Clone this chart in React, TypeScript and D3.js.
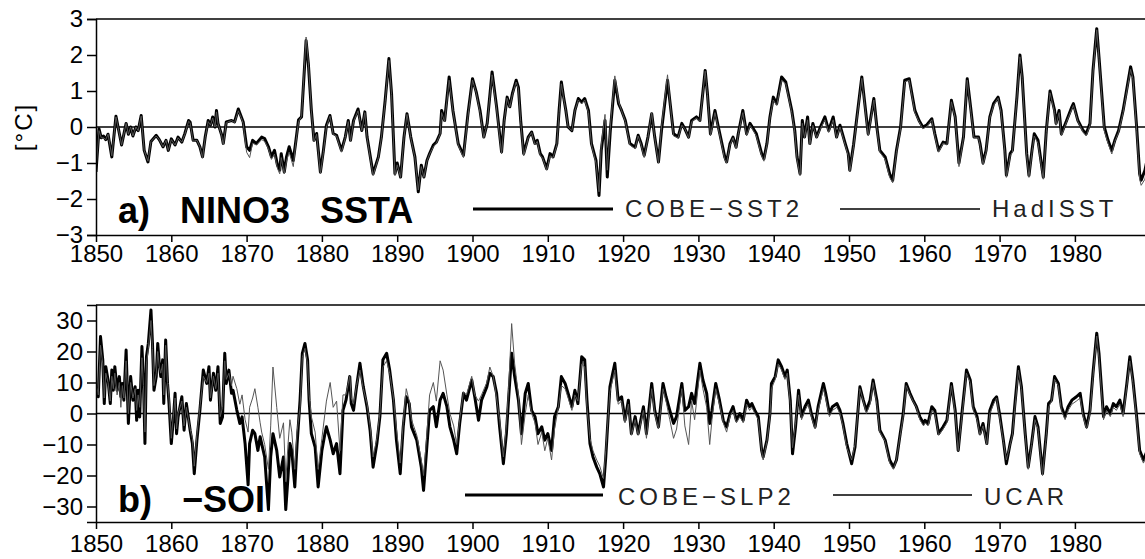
import * as d3 from "d3";
import { useEffect, useRef } from "react";

// a) NINO3 SSTA (degC)
const ninoYears = [
  1850.0, 1850.4, 1850.7, 1851.0, 1851.3, 1851.6, 1852.1, 1852.65, 1853.4, 1854.0, 1854.3, 1854.6, 1854.9, 1855.3, 1855.6, 1856.0, 1856.4, 1856.9, 1857.3, 1858.0, 1858.4, 1858.9, 1859.3, 1859.6,
  1860.0, 1860.5, 1860.9, 1861.4, 1861.8, 1862.3, 1862.5, 1862.9, 1863.4, 1863.8, 1864.15, 1864.5, 1864.9, 1865.2, 1865.5, 1865.8, 1866.0, 1866.2, 1866.7, 1866.9, 1867.3, 1868.0, 1868.4, 1868.9, 1869.3, 1869.55,
  1870.0, 1870.4, 1870.8, 1871.3, 1872.0, 1872.4, 1872.9, 1873.3, 1873.7, 1874.1, 1874.4, 1874.6, 1875.0, 1875.3, 1875.65, 1876.2, 1876.5, 1876.9, 1877.3, 1877.9, 1878.2, 1878.6, 1878.95, 1879.3, 1879.8,
  1880.2, 1880.6, 1881.07, 1881.5, 1881.95, 1882.6, 1883.1, 1883.5, 1883.8, 1884.2, 1884.8, 1885.3, 1885.7, 1886.0, 1886.8, 1887.5, 1887.9, 1888.4, 1888.9, 1889.25, 1889.7,
  1890.0, 1890.45, 1890.9, 1891.3, 1891.8, 1892.35, 1892.8, 1893.2, 1893.55, 1893.95, 1894.3, 1894.8, 1895.2, 1895.7, 1895.9, 1896.3, 1896.9, 1897.4, 1898.1, 1898.8, 1899.4,
  1900.0, 1900.5, 1901.0, 1901.5, 1901.95, 1902.6, 1903.2, 1903.86, 1904.2, 1904.6, 1904.95, 1905.3, 1905.8, 1906.1, 1906.4, 1906.8, 1907.4, 1907.85, 1908.3, 1908.6, 1909.0, 1909.3, 1909.85,
  1910.3, 1910.7, 1911.2, 1911.5, 1911.8, 1912.1, 1912.4, 1912.7, 1913.2, 1913.6, 1914.05, 1914.5, 1914.9, 1915.4, 1915.8, 1916.4, 1916.8, 1917.1, 1917.6, 1917.9, 1918.3, 1918.9, 1919.4, 1919.8,
  1920.3, 1920.9, 1921.6, 1922.0, 1922.4, 1922.8, 1923.3, 1923.8, 1924.2, 1924.7, 1925.1, 1925.9, 1926.2, 1926.7, 1927.3, 1927.8, 1928.2, 1928.7, 1929.1, 1929.75,
  1930.2, 1930.9, 1931.2, 1931.6, 1932.2, 1932.65, 1933.5, 1933.75, 1934.2, 1934.6, 1935.0, 1935.3, 1935.9, 1936.4, 1936.85, 1937.3, 1937.7, 1938.4, 1938.7, 1939.1, 1939.5, 1939.95,
  1940.4, 1941.05, 1941.6, 1942.4, 1942.8, 1943.1, 1943.5, 1943.8, 1944.1, 1944.5, 1944.8, 1945.2, 1945.7, 1946.2, 1946.8, 1947.3, 1947.9, 1948.35, 1948.8, 1949.5, 1949.9,
  1950.1, 1950.6, 1951.7, 1952.55, 1953.3, 1953.7, 1954.1, 1954.8, 1955.4, 1955.8, 1956.3, 1956.85, 1957.4, 1958.0, 1958.75, 1959.3, 1959.8,
  1960.3, 1961.0, 1961.4, 1961.9, 1962.5, 1963.0, 1963.6, 1964.1, 1964.6, 1965.2, 1965.7, 1966.2, 1966.6, 1967.2, 1967.4, 1967.8, 1968.2, 1968.7, 1969.2, 1969.8,
  1970.2, 1970.7, 1970.9, 1971.4, 1971.7, 1972.3, 1972.7, 1973.0, 1973.6, 1973.9, 1974.3, 1974.6, 1975.1, 1975.8, 1976.2, 1976.7, 1977.3, 1977.5, 1977.9, 1978.2, 1978.9, 1979.6, 1979.8,
  1980.4, 1981.1, 1981.5, 1982.0, 1982.4, 1982.9, 1983.2, 1983.9, 1984.4, 1984.9, 1985.3, 1985.8, 1986.4, 1987.4, 1987.7, 1988.2, 1988.6, 1988.8, 1989.3, 1989.6,
];
const ninoCobe = [
  -1.25, -0.05, -0.3, -0.25, -0.35, -0.2, -0.83, 0.3, -0.5, 0.1, -0.2, 0.0, -0.25, 0.0, -0.1, 0.32, -0.65, -0.97, -0.4, -0.23, -0.35, -0.55, -0.37, -0.65,
  -0.33, -0.5, -0.28, -0.42, -0.18, 0.18, 0.14, -0.37, -0.37, -0.55, -0.83, -0.28, 0.18, 0.05, 0.28, 0.0, 0.46, 0.1, -0.23, -0.46, 0.14, 0.18, 0.14, 0.5, 0.28, 0.14,
  -0.55, -0.65, -0.37, -0.46, -0.28, -0.32, -0.55, -0.83, -0.65, -1.06, -1.2, -0.74, -1.25, -0.83, -0.55, -0.93, -0.46, 0.2, 0.28, 2.4, 1.76, 0.46, -0.37, -0.18, -1.25,
  -0.65, 0.05, 0.32, -0.18, -0.23, -0.65, -0.28, 0.18, -0.37, 0.18, 0.5, -0.1, 0.42, -0.28, -1.3, -0.83, -0.28, 0.74, 1.9, 0.93, -1.3,
  -1.0, -1.39, -0.28, 0.37, -0.28, -0.83, -1.8, -1.06, -1.39, -0.93, -0.74, -0.5, -0.42, -0.18, 0.46, 0.18, 1.39, 0.46, -0.46, -0.79, 0.37,
  1.34, 0.97, 0.46, -0.28, 0.1, 1.53, 0.56, -0.69, 0.18, 0.83, 0.56, 0.93, 1.3, 1.1, 0.18, -0.74, -0.28, -0.14, -0.46, -0.37, -0.74, -0.83, -1.16,
  -0.74, -0.83, -0.46, 0.46, 1.25, 0.83, 0.46, 0.0, -0.1, 0.46, 0.79, 0.69, 0.79, 0.46, -0.46, -0.93, -1.9, -0.65, 0.18, -1.39, -0.1, 1.3, 0.65, 0.46,
  0.18, -0.46, -0.56, -0.23, -0.46, -0.79, -0.28, 0.37, -0.28, -0.97, -0.1, 1.3, 0.74, -0.19, -0.28, 0.1, -0.05, -0.28, 0.18, 0.28,
  0.18, 1.57, 0.93, -0.19, 0.46, 0.0, -0.83, -0.97, -0.46, -0.28, -0.56, -0.18, 0.46, -0.19, 0.1, -0.05, -0.19, -0.74, -0.88, -0.46, 0.28, 0.83,
  0.65, 1.39, 1.25, 0.46, -0.1, -0.83, -1.3, 0.18, -0.28, 0.28, -0.46, 0.1, -0.28, 0.0, 0.28, -0.1, 0.28, -0.28, 0.05, -0.46, -0.74,
  -1.2, -0.5, 1.39, -0.19, 0.79, 0.0, -0.65, -0.83, -1.3, -1.48, -0.65, 0.0, 1.3, 1.34, 0.46, 0.18, 0.0,
  0.05, 0.23, -0.19, -0.65, -0.42, -0.46, 0.74, 0.28, -1.0, -0.28, 1.34, 0.46, -0.28, -0.28, -0.46, -1.0, -0.65, 0.28, 0.65, 0.83,
  0.46, -0.65, -1.34, -0.74, -0.65, 0.83, 2.0, 1.39, -0.74, -1.34, -0.65, -0.19, -0.37, -1.39, -0.1, 1.0, 0.46, 0.1, 0.46, -0.19, 0.18, 0.56, 0.65,
  0.18, -0.1, -0.19, 0.1, 1.57, 2.73, 1.94, 0.0, -0.37, -0.65, -0.37, -0.1, 0.46, 1.67, 1.39, 0.0, -1.3, -1.48, -1.2, -0.9,
];
const ninoHad = [
  -1.2, -0.1, -0.3, -0.3, -0.35, -0.2, -0.8, 0.28, -0.5, 0.1, -0.2, 0.0, -0.25, 0.0, -0.1, 0.3, -0.65, -0.95, -0.4, -0.25, -0.35, -0.55, -0.37, -0.65,
  -0.35, -0.5, -0.3, -0.42, -0.2, 0.16, 0.12, -0.4, -0.37, -0.55, -0.85, -0.3, 0.15, 0.05, 0.25, 0.0, 0.42, 0.1, -0.25, -0.5, 0.12, 0.18, 0.12, 0.45, 0.25, 0.1,
  -0.7, -0.85, -0.45, -0.5, -0.35, -0.4, -0.6, -0.9, -0.75, -1.15, -1.3, -0.85, -1.3, -0.95, -0.7, -1.1, -0.5, 0.15, 0.3, 2.5, 1.8, 0.45, -0.4, -0.2, -1.3,
  -0.7, 0.0, 0.3, -0.2, -0.25, -0.7, -0.3, 0.15, -0.4, 0.15, 0.45, -0.1, 0.4, -0.3, -1.35, -0.85, -0.3, 0.7, 1.85, 0.9, -1.35,
  -1.05, -1.4, -0.3, 0.35, -0.3, -0.85, -1.75, -1.1, -1.4, -0.95, -0.75, -0.55, -0.45, -0.2, 0.4, 0.15, 1.3, 0.45, -0.5, -0.85, 0.3,
  1.3, 0.95, 0.4, -0.3, 0.1, 1.45, 0.5, -0.75, 0.15, 0.8, 0.55, 0.9, 1.25, 1.05, 0.15, -0.8, -0.3, -0.15, -0.5, -0.4, -0.8, -0.85, -1.2,
  -0.8, -0.85, -0.5, 0.4, 1.2, 0.8, 0.45, 0.0, -0.1, 0.45, 0.75, 0.65, 0.75, 0.4, -0.5, -1.0, -1.8, -0.5, 0.35, -1.2, 0.0, 1.42, 0.7, 0.45,
  0.15, -0.5, -0.6, -0.25, -0.5, -0.85, -0.3, 0.4, -0.3, -1.0, 0.0, 1.45, 0.75, -0.25, -0.3, 0.05, -0.05, -0.3, 0.15, 0.25,
  0.15, 1.55, 0.9, -0.25, 0.4, -0.05, -0.9, -1.0, -0.5, -0.3, -0.6, -0.2, 0.4, -0.25, 0.05, -0.1, -0.25, -0.8, -0.95, -0.5, 0.25, 0.75,
  0.6, 1.3, 1.2, 0.4, -0.15, -0.9, -1.35, 0.1, -0.3, 0.2, -0.5, 0.05, -0.3, -0.05, 0.2, -0.15, 0.2, -0.3, 0.0, -0.5, -0.8,
  -1.25, -0.55, 1.35, -0.25, 0.75, -0.05, -0.7, -0.9, -1.4, -1.55, -0.7, -0.05, 1.25, 1.3, 0.4, 0.15, -0.05,
  0.0, 0.2, -0.25, -0.7, -0.45, -0.5, 0.7, 0.25, -1.1, -0.3, 1.3, 0.4, -0.3, -0.3, -0.5, -1.05, -0.7, 0.25, 0.6, 0.8,
  0.4, -0.7, -1.4, -0.8, -0.7, 0.8, 1.95, 1.35, -0.8, -1.4, -0.7, -0.25, -0.45, -1.45, -0.15, 0.95, 0.4, 0.05, 0.4, -0.25, 0.15, 0.5, 0.6,
  0.15, -0.15, -0.25, 0.05, 1.5, 2.7, 1.9, -0.1, -0.45, -0.75, -0.4, -0.15, 0.4, 1.6, 1.35, -0.1, -1.45, -1.62, -1.45, -1.1,
];

// b) -SOI
const soiYears = [
  1850.0, 1850.3, 1850.6, 1850.9, 1851.1, 1851.3, 1851.6, 1851.9, 1852.1, 1852.3, 1852.5, 1852.8, 1853.1, 1853.3, 1853.5, 1853.7, 1854.0, 1854.3, 1854.6, 1854.9, 1855.2, 1855.4, 1855.6, 1855.8, 1856.1, 1856.3, 1856.5, 1856.7, 1856.95, 1857.3, 1857.5, 1857.7, 1858.0, 1858.2, 1858.4, 1858.6, 1858.85, 1859.0, 1859.25, 1859.5, 1859.7,
  1860.0, 1860.3, 1860.5, 1860.7, 1860.9, 1861.4, 1861.7, 1862.0, 1862.5, 1862.8, 1863.05, 1863.4, 1863.8, 1864.25, 1864.7, 1865.0, 1865.2, 1865.6, 1865.9, 1866.2, 1866.5, 1866.8, 1867.1, 1867.3, 1867.65, 1868.0, 1868.2, 1868.7, 1869.1, 1869.4, 1869.8,
  1870.2, 1870.4, 1870.8, 1871.1, 1871.5, 1871.8, 1872.0, 1872.4, 1872.9, 1873.2, 1873.5, 1874.0, 1874.4, 1874.9, 1875.2, 1875.5, 1875.75, 1876.0, 1876.4, 1876.7, 1877.1, 1877.4, 1877.75, 1878.1, 1878.3, 1878.6, 1879.1, 1879.5,
  1880.0, 1880.4, 1880.6, 1881.1, 1881.5, 1881.95, 1882.4, 1882.8, 1883.2, 1883.7, 1883.9, 1884.2, 1884.6, 1885.05, 1885.5, 1886.0, 1886.4, 1886.8, 1887.3, 1887.7, 1888.1, 1888.6, 1889.0, 1889.5, 1889.9,
  1890.4, 1890.8, 1891.2, 1891.6, 1891.9, 1892.6, 1893.2, 1893.5, 1893.9, 1894.3, 1894.8, 1895.2, 1895.7, 1896.1, 1896.6, 1897.0, 1897.5, 1897.9, 1898.3, 1898.8, 1899.2, 1899.9,
  1900.3, 1900.8, 1901.2, 1901.9, 1902.3, 1902.75, 1903.2, 1903.6, 1904.1, 1904.5, 1904.8, 1905.2, 1905.6, 1906.1, 1906.5, 1907.0, 1907.4, 1907.85, 1908.3, 1908.7, 1909.2, 1909.6,
  1910.0, 1910.5, 1910.9, 1911.4, 1911.8, 1912.3, 1912.7, 1913.2, 1913.6, 1914.0, 1914.5, 1914.9, 1915.2, 1915.6, 1916.0, 1916.5, 1916.9, 1917.4, 1917.7, 1918.25, 1918.9, 1919.35, 1919.8,
  1920.25, 1920.7, 1921.1, 1921.6, 1922.0, 1922.7, 1923.1, 1923.8, 1924.2, 1924.7, 1925.3, 1925.7, 1926.2, 1926.7, 1927.1, 1927.8, 1928.2, 1928.7, 1929.1, 1929.5,
  1930.2, 1930.6, 1931.1, 1931.5, 1931.8, 1932.3, 1932.8, 1933.3, 1933.75, 1934.2, 1934.6, 1935.05, 1935.5, 1935.95, 1936.4, 1936.8, 1937.1, 1937.5, 1937.95, 1938.4, 1938.6, 1939.1, 1939.5, 1939.7,
  1940.2, 1940.6, 1941.05, 1941.5, 1941.8, 1942.2, 1942.5, 1942.9, 1943.3, 1943.7, 1944.15, 1944.6, 1945.0, 1945.5, 1945.9, 1946.6, 1946.9, 1947.4, 1947.8, 1948.4, 1948.8, 1949.2, 1949.7,
  1950.35, 1950.8, 1951.45, 1951.9, 1952.3, 1952.8, 1953.2, 1953.7, 1954.1, 1954.8, 1955.4, 1955.9, 1956.3, 1956.8, 1957.2, 1957.6, 1958.1, 1958.5, 1958.95, 1959.4, 1959.9,
  1960.1, 1960.5, 1961.0, 1961.4, 1961.9, 1962.5, 1963.0, 1963.6, 1964.1, 1964.5, 1964.95, 1965.6, 1966.1, 1966.5, 1967.0, 1967.4, 1967.8, 1968.3, 1968.7, 1969.2, 1969.6,
  1970.05, 1970.5, 1970.9, 1971.4, 1971.7, 1972.0, 1972.5, 1972.9, 1973.4, 1973.8, 1974.25, 1974.7, 1975.1, 1975.7, 1976.2, 1976.5, 1976.9, 1977.3, 1977.8, 1978.2, 1978.7, 1979.1, 1979.6,
  1980.2, 1980.7, 1981.1, 1981.55, 1982.0, 1982.4, 1982.9, 1983.2, 1983.8, 1984.2, 1984.7, 1985.1, 1985.5, 1985.97, 1986.4, 1986.9, 1987.3, 1987.7, 1988.2, 1988.6, 1989.1, 1989.6,
];
const soiCobe = [
  8.6, 5.4, 24.8, 17.3, 3.2, 15.1, 10.8, 3.2, 14, 7.5, 15.1, 7.5, 11.9, 5.4, 9.7, 4.3, 20.5, -3.2, 11.9, 4.3, 8.6, -2.2, 7.5, -1.1, 21.6, 10.8, -9.7, 18.3, 22.6, 33.4, 22.6, 7.5, 11.9, 22.6, 16.2, 11.9, 17.3, 3.2, 23.7, 9.7, 3.2,
  -9.7, -1.1, 6.5, -6.5, -1.1, 5.4, -5.4, 3.2, -5.4, -9.7, -19.4, -8.6, 1.1, 14, 9.7, 15.1, 4.3, 13, 7.5, 15.1, -3.2, -1.1, 19.4, 9.7, 14, 6.5, 7.5, 1.1, -3.2, -1.1, -9.7,
  -23, -9.7, -5.4, -6.5, -11.9, -7.5, -9.7, -14, -31, -14, -6.5, -11.9, -20.5, -14, -31, -20.5, -9.7, -11.9, -23.7, -10, 4.3, 19.4, 22.6, 17.3, 4.3, -6.5, -10.8, -23.7,
  -11.9, -6.5, -4.3, -8.6, -13, -9.7, -19.4, 1, 4.3, 11.9, 3.2, 1, 8.6, 16.2, 8.6, 2, -5.4, -17.3, -9.7, -1, 17.3, 19.4, 14, 4.3, -8.6,
  -19.4, -4.3, 5.4, 3.2, -4.3, -8.6, -17.3, -24.8, -11.9, 1, 2.2, -4.3, 4.3, 6.5, 2.2, -4.3, -8.6, -13, -3.2, 6.5, 4.3, 10.8,
  5.4, -2.2, 4.3, 8.6, 13, 11.9, 6.5, -4.3, -16.2, -6.5, 5, 19.4, 11.9, 4.3, -6.5, 6.5, 9.7, 1, -1, -6.5, -4.3, -8.6,
  -6.5, -11.9, -1, 2.2, 11.9, 9.7, 6.5, 2.2, 7.5, 3.2, 18.3, 17.3, 4.3, -9.7, -14, -17.3, -19.4, -23.7, -14, 8.6, 16.2, 4.3, 5.4,
  -2.2, 4.3, -6.5, -1, -6.5, 2.2, -6.5, 9.7, 1, -4.3, 9.7, 5.4, 1, -3.2, -1, 9.7, 1, 2.2, 6.5, 3.2,
  16.2, 10.8, 6.5, -3.2, 1, 9.7, 4.3, -2.2, -4.3, 0, 2.2, -2.2, 0, -2.2, 4.3, 2.2, 3.2, 1, -1, -11.9, -14, -8.6, 0, 9.7,
  11.9, 17.3, 15.1, 11.9, 14, 4.3, -13, -4.3, 7.5, -1, 2.2, 4.3, 0, -4.3, 2.2, 9.7, 6.5, 0, 2.2, 3.2, 1, -3.2, -9.7,
  -16.2, -10.8, 8.6, 4.3, 1, 4.3, 10.8, 4.3, -5.4, -8.6, -15, -17.3, -15, -6.5, 0, 9.7, 6.5, 4.3, 2.2, -1, -3.2,
  -2.2, -3.2, 2.2, 1, -6.5, -4.3, -2.2, 9.7, 1, -11.9, -1, 14, 10.8, 2.2, -1, -6.5, -3.2, -9.7, 1, 4.3, 5.4,
  -1, -8.6, -16.2, -9.7, -6.5, 2.2, 15.1, 8.6, -6.5, -17.3, -9.7, -1, -4.3, -19.4, -6.5, 3.2, 4.3, 11.9, 9.7, 2.2, -1, 2.2, 4.3,
  5.4, 6.5, 0, -4.3, 1, 13, 25.9, 19.4, -1, 2.2, 0, 3.2, 2.2, 4.3, 0, 9.7, 18.3, 10.8, -1, -11.9, -15, -12,
];
const soiUcar = [
  10, 6, 22, 16, 5, 13, 10, 4, 12, 8, 13, 6, 10, 2, 9, 5, 17, 0, 10, 5, 8, 1, 6, 2, 18, 9, -6, 16, 21, 30, 21, 9, 13, 20, 15, 13, 16, 6, 22, 10, 5,
  -8, 0, 5, -5, 0, 4, -4, 2, -5, -8, -17, -7, 2, 12, 10, 13, 5, 12, 8, 13, -1, 2, 17, 11, 13, 9, 12, 8, 3, 6, -2,
  -6, 2, 5, 8, 2, -3, -6, -10, -18, -4, 15, 2, -8, -3, -22, -10, -2, -6, -18, -6, 2, 18, 21, 16, 6, -1, -6, -18,
  -8, 0, 4, 10, 2, 4, -12, 6, 6, 12, 5, 3, 9, 14, 8, 3, -4, -14, -8, 0, 15, 17, 13, 5, -5,
  -16, -3, 8, 4, -2, -7, -15, -20, -8, 6, 10, 4, 17, 14, 6, 0, -4, -10, -2, 7, 6, 12,
  6, 4, 6, 10, 15, 12, 5, -2, -14, -4, 8, 29, 16, 6, -10, 0, 6, 0, -3, -10, -6, -12,
  -8, -15, -5, 2, 9, 8, 5, 1, 6, 4, 16, 15, 2, -8, -12, -15, -17, -21, -12, 7, 14, 3, 4,
  -3, 3, -7, -2, -7, 1, -8, 8, 0, -5, 8, 4, -2, -8, -5, 8, -4, -10, 4, -2,
  14, 8, 2, -10, -2, 8, 3, -3, -6, -1, 1, -3, -1, -3, 3, 1, 2, 0, -2, -12, -15, -9, -1, 8,
  11, 16, 14, 11, 13, 3, -11, -3, 6, -2, 1, 3, -1, -5, 1, 8, 5, -1, 1, 2, 0, -4, -11,
  -15, -10, 8, 4, 0, 3, 10, 3, -6, -9, -16, -18, -15, -7, -1, 9, 6, 4, 2, -2, -4,
  -3, -4, 1, 0, -7, -5, -3, 9, 0, -12, -2, 13, 10, 1, -2, -7, -4, -10, 0, 3, 5,
  -2, -9, -15, -10, -7, 1, 14, 8, -7, -18, -10, -2, -5, -20, -7, 2, 4, 11, 9, 1, -2, 1, 3,
  4, 5, -1, -5, 0, 12, 25, 18, -2, 1, -1, 2, 1, 3, -1, 9, 17, 10, -2, -13, -16, -13,
];

const decadeTicks = [1850, 1860, 1870, 1880, 1890, 1900, 1910, 1920, 1930, 1940, 1950, 1960, 1970, 1980];
const ninoTicks = [-3, -2, -1, 0, 1, 2, 3];
const soiTicks = [-30, -20, -10, 0, 10, 20, 30];

const W = 1145;
const H = 559;
const FONT = "'Liberation Sans', Arial, sans-serif";

const panels = [
  {
    top: 19, bottom: 235, domain: [-3, 3], ticks: ninoTicks, years: ninoYears, thick: ninoCobe, thin: ninoHad,
    labelPad: 3, title: [["a)", 118], ["NINO3", 180], ["SSTA", 320]], titleY: 223,
    legend: { y: 209, textY: 217, thick: [473, 613], thickText: ["COBE\u2212SST2", 625], thin: [840, 980], thinText: ["HadISST", 992] },
  },
  {
    top: 305, bottom: 522, domain: [-35, 35], ticks: soiTicks, years: soiYears, thick: soiCobe, thin: soiUcar,
    labelPad: 6, title: [["b)", 118], ["\u2212SOI", 182]], titleY: 512,
    legend: { y: 495, textY: 505, thick: [465, 603], thickText: ["COBE\u2212SLP2", 618], thin: [833, 972], thinText: ["UCAR", 984] },
  },
];

function App() {
  const svgRef = useRef(null);

  useEffect(() => {
    const svg = d3.select(svgRef.current);
    svg.selectAll("*").remove();

    const x = d3.scaleLinear().domain([1850, 2000]).range([96, 96 + 150 * 7.53]);

    panels.forEach((p, k) => {
      const y = d3.scaleLinear().domain(p.domain).range([p.bottom, p.top]);
      const g = svg.append("g");

      g.append("clipPath").attr("id", "clip" + k)
        .append("rect")
        .attr("x", x(1850)).attr("y", p.top)
        .attr("width", x(2000) - x(1850)).attr("height", p.bottom - p.top);

      // frame: top line and zero line
      g.append("line").attr("x1", x(1850)).attr("x2", x(2000)).attr("y1", p.top).attr("y2", p.top)
        .attr("stroke", "#000").attr("stroke-width", 1.5);
      g.append("line").attr("x1", x(1850)).attr("x2", x(2000)).attr("y1", y(0)).attr("y2", y(0))
        .attr("stroke", "#000").attr("stroke-width", 1.5);

      const n = Math.min(p.years.length, p.thick.length, p.thin.length);
      const idx = d3.range(n);
      const line = (vals: number[]) =>
        d3.line<number>().x((i) => x(p.years[i])).y((i) => y(vals[i]))(idx);

      const lines = g.append("g").attr("clip-path", `url(#clip${k})`);
      lines.append("path").attr("d", line(p.thick)).attr("fill", "none")
        .attr("stroke", "#000").attr("stroke-width", 3).attr("stroke-linejoin", "round");
      lines.append("path").attr("d", line(p.thin)).attr("fill", "none")
        .attr("stroke", "#555").attr("stroke-width", 1).attr("stroke-linejoin", "round");

      // axes
      const yAxis = d3.axisLeft(y).tickValues(p.ticks).tickSize(9).tickPadding(4).tickFormat(d3.format("d"));
      const ya = g.append("g").attr("transform", `translate(${x(1850)},0)`).call(yAxis);
      const xAxis = d3.axisBottom(x).tickValues(decadeTicks).tickSize(7).tickPadding(p.labelPad).tickFormat(d3.format("d"));
      const xa = g.append("g").attr("transform", `translate(0,${p.bottom})`).call(xAxis);
      xa.select(".domain").attr("d", `M${x(1850)},0.5H${x(2000)}`);
      [ya, xa].forEach((a) => {
        a.select(".domain").attr("stroke-width", 1.5);
        a.selectAll(".tick line").attr("stroke-width", 1.5);
        a.selectAll("text").attr("font-family", FONT).attr("font-size", 24).attr("fill", "#000");
      });

      // title
      p.title.forEach(([t, tx]) => {
        g.append("text").attr("x", tx).attr("y", p.titleY).text(t as string)
          .attr("font-family", FONT).attr("font-weight", "bold").attr("font-size", 36);
      });

      // legend
      const L = p.legend;
      g.append("line").attr("x1", L.thick[0]).attr("x2", L.thick[1]).attr("y1", L.y).attr("y2", L.y)
        .attr("stroke", "#000").attr("stroke-width", 3);
      g.append("line").attr("x1", L.thin[0]).attr("x2", L.thin[1]).attr("y1", L.y).attr("y2", L.y)
        .attr("stroke", "#000").attr("stroke-width", 1.5);
      [L.thickText, L.thinText].forEach(([t, tx]) => {
        g.append("text").attr("x", tx).attr("y", L.textY).text(t as string)
          .attr("font-family", FONT).attr("font-size", 24).attr("letter-spacing", 4).attr("fill", "#222");
      });
    });

    svg.append("text").attr("transform", "translate(32,127) rotate(-90)")
      .attr("text-anchor", "middle").attr("font-family", FONT).attr("font-size", 24)
      .attr("letter-spacing", 2).text("[\u00b0C]");
  }, []);

  return (
    <svg ref={svgRef} width={W} height={H}
      style={{ position: "absolute", left: 0, top: 0, background: "#fff" }} />
  );
}

export default App;
